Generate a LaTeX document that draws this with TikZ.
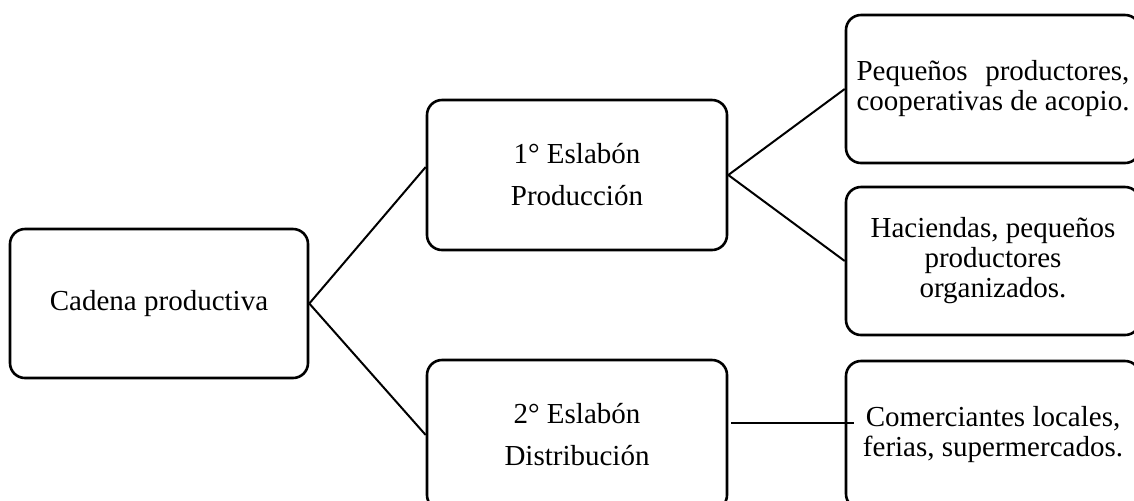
\documentclass[tikz,border=0pt]{standalone}
\usepackage{fontspec}
\setmainfont{Liberation Serif}
\usepackage{calc}
\usetikzlibrary{positioning}

\begin{document}
\begin{tikzpicture}[x=0.5pt,y=-0.5pt,
    box/.style={draw, line width=1.3pt, rounded corners=7.5pt, align=center,
      inner sep=0pt, font=\fontsize{14.5}{15}\selectfont},
    eslabon/.style={box, minimum width=150pt, minimum height=75pt,
      font=\fontsize{14.5}{21}\selectfont},
    actor/.style={box, minimum width=147pt, minimum height=74pt},
    link/.style={line width=1pt}]
  \useasboundingbox (0,0) rectangle (1134,500);

  % Cadena productiva
  \node[box, minimum width=149pt, minimum height=74.5pt] (cadena) at (159,303.5) {Cadena productiva};

  % Eslabones
  \node[eslabon] (produccion) at (577,175) {1° Eslabón\\Producción};
  \node[eslabon] (distribucion) at (577,435) {2° Eslabón\\Distribución};

  % Actores
  \node[actor] (pequenos) at (993,89)
    {\makebox[\widthof{cooperativas de acopio.}][s]{Pequeños productores,}\\cooperativas de acopio.};
  \node[actor] (haciendas) at (993,261) {Haciendas, pequeños\\productores\\organizados.};
  \node[actor] (comerciantes) at (993,435) {Comerciantes locales,\\ferias, supermercados.};

  % Conectores
  \draw[link] (cadena.east) -- ([yshift=4pt]produccion.west);
  \draw[link] (cadena.east) -- (distribucion.west);
  \draw[link] (produccion.east) -- (pequenos.west);
  \draw[link] (produccion.east) -- (haciendas.west);
  \draw[link] ([xshift=1.5pt,yshift=6pt]distribucion.east) -- ([xshift=4.5pt,yshift=6pt]comerciantes.west);
\end{tikzpicture}
\end{document}
